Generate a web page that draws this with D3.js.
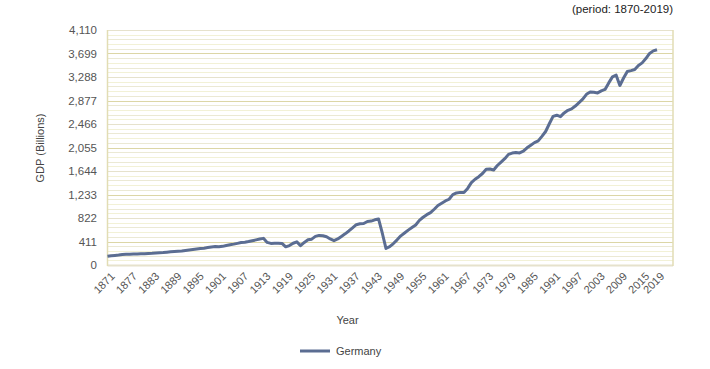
<!DOCTYPE html>
<html>
<head>
<meta charset="utf-8">
<script src="https://cdn.jsdelivr.net/npm/d3@7"></script>
<style>
  body { margin: 0; background: #fff; }
  svg { display: block; font-family: "Liberation Sans", Arial, sans-serif; }
</style>
</head>
<body>
<svg id="chart" width="710" height="369"></svg>
<script>
// GDP of Germany, billions, 1871-2019
const startYear = 1871;
const gdp = [
  152, 162, 168, 175, 185, 187, 189, 193, 192, 195,
  198, 202, 205, 210, 214, 218, 225, 231, 236, 242,
  246, 255, 264, 271, 279, 288, 294, 305, 316, 322,
  318, 326, 342, 354, 365, 378, 392, 398, 410, 425,
  440, 455, 466, 395, 378, 380, 382, 378, 318, 340,
  380, 405, 338, 395, 440, 452, 500, 518, 512, 495,
  455, 425, 455, 500, 545, 595, 650, 705, 720, 725,
  760, 768, 790, 805, 560, 290, 320, 375, 440, 510,
  560, 610, 655, 700, 780, 835, 880, 915, 975, 1040,
  1080, 1120, 1150, 1230, 1260, 1270, 1268, 1340, 1440, 1500,
  1545, 1600, 1674, 1680, 1662, 1740, 1800, 1860, 1935, 1958,
  1968, 1960, 1990, 2050, 2095, 2140, 2170, 2250, 2335, 2470,
  2600, 2620, 2595, 2660, 2705, 2730, 2780, 2840, 2900, 2985,
  3025, 3020, 3010, 3045, 3070, 3185, 3290, 3320, 3140, 3270,
  3385, 3400, 3420, 3490, 3535, 3610, 3700, 3745, 3765
];
const years = gdp.map((v, i) => startYear + i);
const yTicks = d3.range(0, 4111, 411);
const xTicks = d3.range(1871, 2016, 6).concat([2019]);
const seriesName = "Germany";

const svg = d3.select("#chart");
const pLeft = 107.5, pRight = 673, pTop = 30, pBottom = 265;

const x = d3.scaleLinear().domain([1871, 2019]).range([pLeft, 657]);
const y = d3.scaleLinear().domain([0, 4110]).range([pBottom, pTop]);

// minor grid
const minor = d3.range(0, 4110, 82.2);
svg.append("g")
  .selectAll("line")
  .data(minor)
  .enter().append("line")
  .attr("x1", pLeft).attr("x2", pRight)
  .attr("y1", d => Math.round(y(d)) + 0.5)
  .attr("y2", d => Math.round(y(d)) + 0.5)
  .attr("stroke", (d, i) => i % 5 === 0 ? "none" : (i % 2 ? "#f2f1d6" : "#ebe9d4"))
  .attr("stroke-width", 1);

// major grid
svg.append("g")
  .selectAll("line")
  .data(yTicks)
  .enter().append("line")
  .attr("x1", pLeft).attr("x2", pRight)
  .attr("y1", d => Math.round(y(d)) + 0.5)
  .attr("y2", d => Math.round(y(d)) + 0.5)
  .attr("stroke", (d, i) => i % 2 ? "#dcd6a6" : "#e6e2cc")
  .attr("stroke-width", d => d === 0 ? 2 : 1.2);

// frame sides
svg.append("line")
  .attr("x1", pLeft).attr("x2", pLeft).attr("y1", pTop).attr("y2", pBottom + 1)
  .attr("stroke", "#e2ddb4").attr("stroke-width", 1.5);
svg.append("line")
  .attr("x1", pRight).attr("x2", pRight).attr("y1", pTop).attr("y2", pBottom + 1)
  .attr("stroke", "#e2ddb4").attr("stroke-width", 1.5);

// y labels
svg.append("g")
  .selectAll("text")
  .data(yTicks)
  .enter().append("text")
  .attr("x", 97)
  .attr("y", d => y(d) + 4)
  .attr("text-anchor", "end")
  .attr("font-size", 11.5)
  .attr("fill", "#555")
  .text(d => d3.format(",")(d));

// x labels
svg.append("g")
  .selectAll("text")
  .data(xTicks)
  .enter().append("text")
  .attr("transform", d => `translate(${x(d) + 8},277) rotate(-45)`)
  .attr("text-anchor", "end")
  .attr("font-size", 11)
  .attr("fill", "#555")
  .text(d => d);

// line
const line = d3.line()
  .x((d, i) => x(years[i]))
  .y(d => y(d));

svg.append("path")
  .datum(gdp)
  .attr("fill", "none")
  .attr("stroke", "#5b6d92")
  .attr("stroke-width", 3)
  .attr("stroke-linejoin", "round")
  .attr("d", line);

// titles
svg.append("text")
  .attr("transform", "translate(44,148) rotate(-90)")
  .attr("text-anchor", "middle")
  .attr("font-size", 11)
  .attr("fill", "#444")
  .text("GDP (Billions)");

svg.append("text")
  .attr("x", 347.5).attr("y", 324)
  .attr("text-anchor", "middle")
  .attr("font-size", 11)
  .attr("fill", "#444")
  .text("Year");

svg.append("text")
  .attr("x", 673).attr("y", 13)
  .attr("text-anchor", "end")
  .attr("font-size", 11.5)
  .attr("fill", "#222")
  .text("(period: 1870-2019)");

// legend
svg.append("line")
  .attr("x1", 300).attr("x2", 330).attr("y1", 351).attr("y2", 351)
  .attr("stroke", "#5b6d92").attr("stroke-width", 3);
svg.append("text")
  .attr("x", 336).attr("y", 355)
  .attr("font-size", 11)
  .attr("fill", "#444")
  .text(seriesName);
</script>
</body>
</html>
